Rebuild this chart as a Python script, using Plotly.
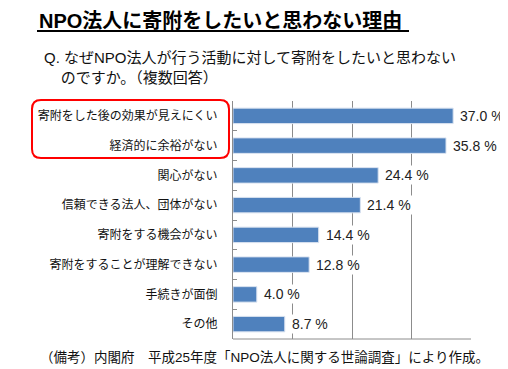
import plotly.graph_objects as go

categories = [
    "寄附をした後の効果が見えにくい",
    "経済的に余裕がない",
    "関心がない",
    "信頼できる法人、団体がない",
    "寄附をする機会がない",
    "寄附をすることが理解できない",
    "手続きが面倒",
    "その他",
]
values = [37.0, 35.8, 24.4, 21.4, 14.4, 12.8, 4.0, 8.7]
value_labels = [f"{v:.1f} %" for v in values]

title_text = "NPO法人に寄附をしたいと思わない理由"
question_text = "Q. なぜNPO法人が行う活動に対して寄附をしたいと思わない<br>    のですか。（複数回答）"
note_text = "（備考）内閣府　平成25年度「NPO法人に関する世論調査」により作成。"

# page body has an 8px margin; work in reference pixels and shift
O = 8
W, H = 508 - O, 369 - O
L, R, T, B = 233 - O, W - (471 - O), 101 - O, H - (339 - O)
pw, ph = W - L - R, H - T - B

def px(x):
    return (x - O - L) / pw

def py(y):
    return (H - B - (y - O)) / ph

FONT = "Liberation Sans, Noto Sans CJK JP"
CJK = "Noto Sans CJK JP"
BLUE = "#4F81BD"
GRID = "#8C8C8C"

fig = go.Figure()
fig.add_trace(go.Bar(
    y=categories, x=values, orientation="h",
    marker=dict(color=BLUE, line=dict(color="#D9E2F0", width=1)),
    width=0.52, hoverinfo="skip",
))

annotations = []
for c, v, lab in zip(categories, values, value_labels):
    annotations.append(dict(
        x=v, y=c, xref="x", yref="y", text=lab, showarrow=False,
        xanchor="left", xshift=5, bgcolor="white", borderpad=1,
        font=dict(family=FONT, size=14, color="#222222"),
    ))

annotations.append(dict(
    x=px(37), y=py(21), xref="paper", yref="paper", text="<b>" + title_text + "</b>",
    showarrow=False, xanchor="left", yanchor="middle",
    font=dict(family=FONT, size=20, color="black"),
))
annotations.append(dict(
    x=px(42), y=py(67), xref="paper", yref="paper", text=question_text,
    showarrow=False, xanchor="left", yanchor="middle", align="left",
    font=dict(family=FONT, size=15, color="#111111"),
))
annotations.append(dict(
    x=px(38), y=py(357), xref="paper", yref="paper", text=note_text,
    showarrow=False, xanchor="left", yanchor="middle",
    font=dict(family=FONT, size=13.5, color="#111111"),
))

# rounded red rectangle around top two labels
x0, x1, y0, y1, r = 32, 229, 100, 158, 9
def P(x, y):
    return f"{px(x):.5f},{py(y):.5f}"
path = (
    f"M {P(x0 + r, y0)} L {P(x1 - r, y0)} Q {P(x1, y0)} {P(x1, y0 + r)} "
    f"L {P(x1, y1 - r)} Q {P(x1, y1)} {P(x1 - r, y1)} "
    f"L {P(x0 + r, y1)} Q {P(x0, y1)} {P(x0, y1 - r)} "
    f"L {P(x0, y0 + r)} Q {P(x0, y0)} {P(x0 + r, y0)} Z"
)
shapes = [
    dict(type="path", xref="paper", yref="paper", path=path,
         line=dict(color="#FF0000", width=2)),
    dict(type="line", xref="paper", yref="paper",
         x0=px(37), x1=px(409), y0=py(31), y1=py(31),
         line=dict(color="black", width=2)),
    dict(type="line", xref="paper", yref="paper",
         x0=0, x1=1, y0=0, y1=0, line=dict(color=GRID, width=1)),
]

fig.update_layout(
    width=W, height=H,
    margin=dict(l=L, r=R, t=T, b=B, pad=0),
    paper_bgcolor="white", plot_bgcolor="white",
    showlegend=False, bargap=0.48,
    font=dict(family=FONT, size=12, color="#111111"),
    annotations=annotations, shapes=shapes,
    xaxis=dict(range=[0, 40], dtick=10, showgrid=True, gridcolor=GRID, gridwidth=1,
               showticklabels=False, zeroline=False, showline=False, fixedrange=True),
    yaxis=dict(autorange="reversed", showline=True, linecolor=GRID, linewidth=1,
               ticks="inside", tickson="boundaries", ticklen=4, tickcolor=GRID,
               ticklabelstandoff=12, tickfont=dict(family=CJK, size=12, color="#111111"),
               showgrid=False, fixedrange=True),
)

fig.write_html("out.html")
